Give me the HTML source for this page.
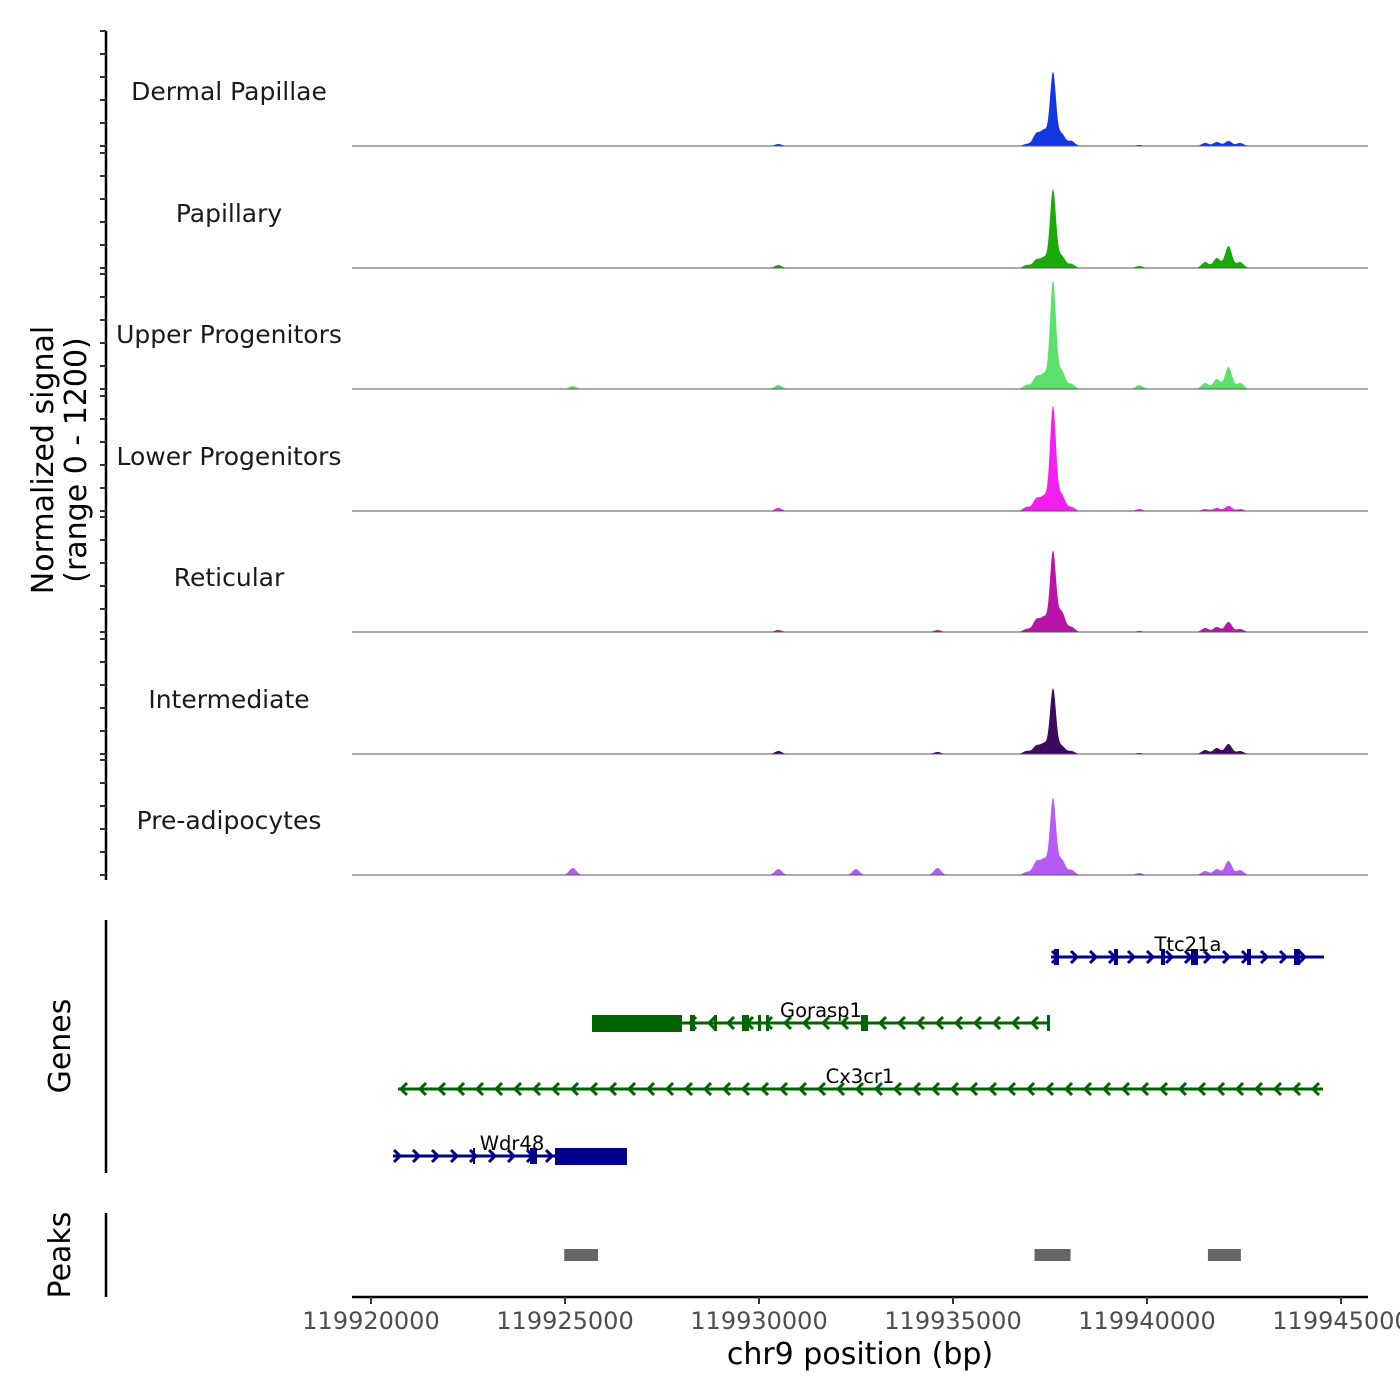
<!DOCTYPE html>
<html><head><meta charset="utf-8"><style>
html,body{margin:0;padding:0;background:#fff;}
svg{display:block;font-family:"DejaVu Sans","Liberation Sans",sans-serif;}
</style></head><body>
<svg id="chart" width="1400" height="1400" viewBox="0 0 1400 1400" xmlns="http://www.w3.org/2000/svg">
<rect width="1400" height="1400" fill="#fff"/>
<g id="tracks"></g>
<g id="genes"></g>
<g id="peaks"></g>
<g id="axis"></g>
<text transform="translate(53,460) rotate(-90)" text-anchor="middle" font-size="30" fill="#000">Normalized signal</text>
<text transform="translate(86,460) rotate(-90)" text-anchor="middle" font-size="30" fill="#000">(range 0 - 1200)</text>
<text transform="translate(70,1046) rotate(-90)" text-anchor="middle" font-size="30" fill="#000">Genes</text>
<text transform="translate(70,1255) rotate(-90)" text-anchor="middle" font-size="30" fill="#000">Peaks</text>
<text x="860" y="1364" text-anchor="middle" font-size="30" fill="#000">chr9 position (bp)</text>
</svg>
<script>
const NS='http://www.w3.org/2000/svg';
const trackNames=['Dermal Papillae','Papillary','Upper Progenitors','Lower Progenitors','Reticular','Intermediate','Pre-adipocytes'];
const trackColors=['#1238e0','#1aaa0a','#5de06a','#f51ef0','#b814a8','#3d0a5e','#b45cf5'];
const bumpPos=[119925200,119930500,119932500,119934600,119936900,119937150,119937350,119937577,119937800,119938050,119939800,119941500,119941800,119942100,119942400];
const sigDP=[0,20,0,0,20,120,150,730,120,50,10,30,40,50,30];
const sigPap=[0,30,0,0,30,80,100,780,120,40,20,60,100,220,60];
const sigUpP=[30,40,0,0,40,120,140,1070,180,50,40,60,100,220,60];
const sigLowP=[0,30,0,0,40,120,140,1040,160,40,20,20,30,50,20];
const sigRet=[0,20,0,20,30,120,140,800,200,50,10,40,50,100,30];
const sigInt=[0,30,0,20,30,80,100,650,80,30,10,40,60,100,30];
const sigPre=[70,60,60,70,30,130,150,760,150,50,20,40,60,140,50];
const signals=[sigDP,sigPap,sigUpP,sigLowP,sigRet,sigInt,sigPre];
const xTicks=[119920000,119925000,119930000,119935000,119940000,119945000];
const peakStarts=[119924980,119937100,119941570];
const peakEnds=[119925850,119938030,119942420];

const X0=119920000, PX0=371, PXPER=194/5000;
const xs=p=>PX0+(p-X0)*PXPER;
const baselines=[146,268,389,511,632,754,875];
const ys=(b,v)=>b-v*0.1;

function mk(tag,attrs,parent){const e=document.createElementNS(NS,tag);for(const k in attrs)e.setAttribute(k,attrs[k]);parent.appendChild(e);return e;}
const tracks=document.getElementById('tracks');
const yl=mk('line',{x1:106,y1:31,x2:106,y2:880,stroke:'#000','stroke-width':2.5},tracks);


baselines.forEach(b=>{for(let k=0;k<6;k++){const t=mk('line',{x1:100,x2:106,y1:b-k*23,y2:b-k*23,stroke:'#333','stroke-width':2},tracks);

}});
signals.forEach((sig,i)=>{
  const b=baselines[i];
  const g=mk('g',{},tracks);
  
  
  let d='M352,'+b;
  for(let px=352;px<=1368;px+=0.5){
    let v=0;
    bumpPos.forEach((p,j)=>{const c=xs(p);const s=(j===7)?3:3.5;v+=sig[j]*Math.exp(-((px-c)**2)/(2*s*s));});
    d+=' L'+px+','+ys(b,v).toFixed(2);
  }
  d+=' L1368,'+b+' Z';
  const a=mk('path',{d:d,fill:trackColors[i]},g);
  
  
  const bl=mk('line',{x1:352,x2:1368,y1:b,y2:b,stroke:'#555','stroke-width':1},g);
  
  
  const t=mk('text',{x:229,y:b-46,'text-anchor':'middle','font-size':25,fill:'#1a1a1a'},g);
  t.textContent=trackNames[i];
  
  
});

const genes=document.getElementById('genes');
const gl=mk('line',{x1:106,y1:920,x2:106,y2:1173,stroke:'#000','stroke-width':2.5},genes);


const geneDefs=[
 {name:'Ttc21a',y:957,x1:1051,x2:1324,dir:1,col:'#00008b',lx:1188,ex:[[1054,1059],[1114,1118],[1161,1165],[1191,1198],[1247,1251],[1294,1300]],big:null},
 {name:'Gorasp1',y:1023,x1:592,x2:1050,dir:-1,col:'#006400',lx:821,ex:[[690,695],[714,717],[742,749],[758,761],[766,769],[861,868],[1047,1050]],big:[592,682]},
 {name:'Cx3cr1',y:1089,x1:398,x2:1323,dir:-1,col:'#006400',lx:860,ex:[],big:null},
 {name:'Wdr48',y:1156,x1:393,x2:627,dir:1,col:'#00008b',lx:512,ex:[[473,475],[530,537]],big:[555,627]}
];
geneDefs.forEach(gd=>{
  const g=mk('g',{},genes);
  
  
  mk('line',{x1:gd.x1,x2:gd.x2,y1:gd.y,y2:gd.y,stroke:gd.col,'stroke-width':3},g);
  let arrows='';
  for(let x=gd.x1+5;x<gd.x2-3;x+=19){
    if(gd.dir>0) arrows+=`M${x-4},${gd.y-6} L${x+2},${gd.y} L${x-4},${gd.y+6} `;
    else arrows+=`M${x+4},${gd.y-6} L${x-2},${gd.y} L${x+4},${gd.y+6} `;
  }
  mk('path',{d:arrows,fill:'none',stroke:gd.col,'stroke-width':3},g);
  gd.ex.forEach(e=>mk('rect',{x:e[0],y:gd.y-8,width:e[1]-e[0],height:16,fill:gd.col},g));
  if(gd.big) mk('rect',{x:gd.big[0],y:gd.y-8,width:gd.big[1]-gd.big[0],height:17,fill:gd.col},g);
  const t=mk('text',{x:gd.lx,y:gd.y-6,'text-anchor':'middle','font-size':19.5,fill:'#000'},g);
  t.textContent=gd.name;
  
  
});

const peaks=document.getElementById('peaks');
const pl=mk('line',{x1:106,y1:1213,x2:106,y2:1297,stroke:'#000','stroke-width':2.5},peaks);


peakStarts.forEach((s,i)=>{
  const r=mk('rect',{x:xs(s),y:1249,width:xs(peakEnds[i])-xs(s),height:12,fill:'#666'},peaks);
  
  
});

const axis=document.getElementById('axis');
const al=mk('line',{x1:352,x2:1368,y1:1297,y2:1297,stroke:'#000','stroke-width':2.5},axis);


xTicks.forEach(t=>{
  const x=xs(t);
  const tk=mk('line',{x1:x,x2:x,y1:1297,y2:1304,stroke:'#333','stroke-width':2},axis);
  
  
  const lb=mk('text',{x:x,y:1329,'text-anchor':'middle','font-size':24,fill:'#4d4d4d'},axis);
  lb.textContent=t;
  
  
});
</script>
</body></html>
